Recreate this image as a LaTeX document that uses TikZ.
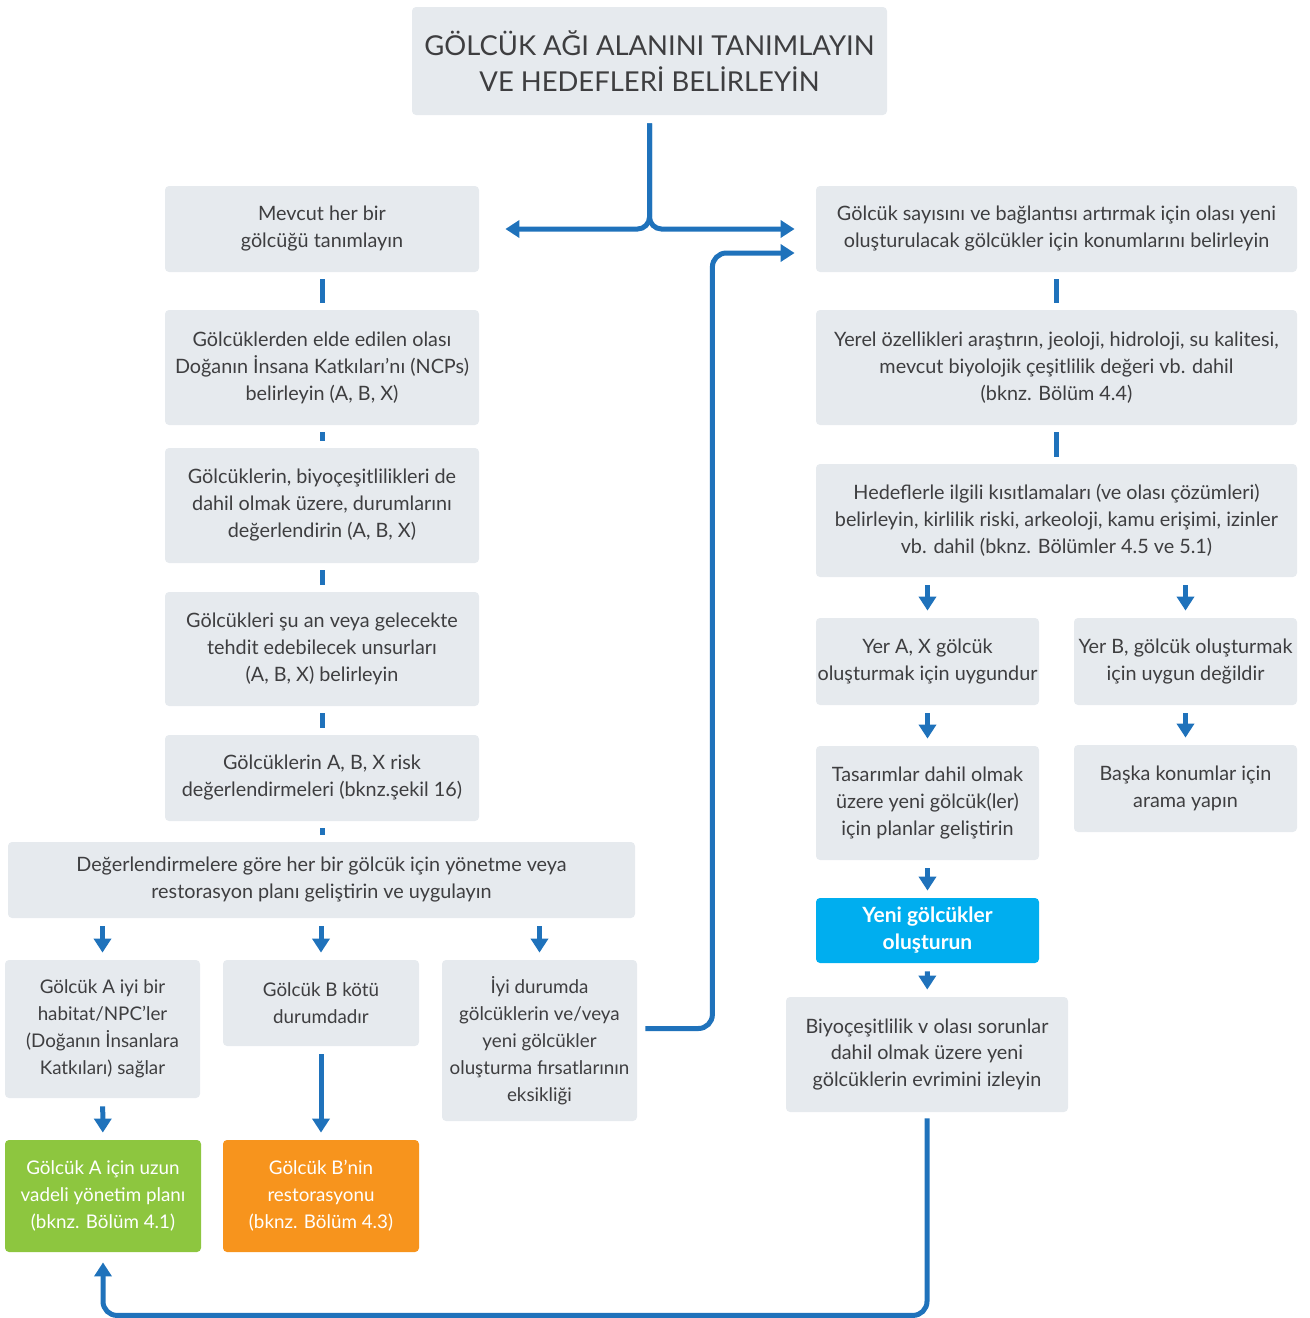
\documentclass[tikz,border=0pt]{standalone}
\usepackage{fontspec}
\setmainfont{Lato}
\usetikzlibrary{arrows.meta,calc}
\definecolor{boxgray}{RGB}{230,234,238}
\definecolor{textgray}{RGB}{62,62,64}
\definecolor{linkblue}{RGB}{31,114,187}
\definecolor{leafgreen}{RGB}{141,198,63}
\definecolor{warmorange}{RGB}{247,148,29}
\definecolor{skyblue}{RGB}{0,174,239}

\begin{document}
\begin{tikzpicture}[x=0.5pt,y=-0.5pt,
    box/.style={fill=boxgray,rounded corners=2pt,align=center,inner sep=0pt,
      text=textgray,font=\fontsize{9.9}{13.5}\selectfont},
    narrow/.style={font=\fontsize{9.4}{13.5}\selectfont},
    sz/.style 2 args={minimum width=#1*0.5pt,minimum height=#2*0.5pt},
    colorbox/.style={box,fill=#1,text=white},
    link/.style={draw=linkblue,line width=2.5pt,shorten <=3.5pt,shorten >=3.5pt},
    arr/.style={link,-{Triangle[width=8.5pt,length=7pt]},shorten <=4pt,shorten >=3.5pt}]
  \useasboundingbox (0,0) rectangle (1310,1318);

  % title
  \node[box,sz={475}{108},font=\fontsize{13.7}{18}\selectfont] (top) at (649.5,61)
    {GÖLCÜK AĞI ALANINI TANIMLAYIN\\VE HEDEFLERİ BELİRLEYİN};

  % left column
  \node[box,sz={314}{86}] (mevcut) at (322,229) {Mevcut her bir\\gölcüğü tanımlayın};
  \node[box,sz={314}{115}] (ncp) at (322,367.5)
    {Gölcüklerden elde edilen olası\\Doğanın İnsana Katkıları’nı (NCPs)\\belirleyin (A, B, X)};
  \node[box,sz={314}{115}] (durum) at (322,505.5)
    {Gölcüklerin, biyoçeşitlilikleri de\\dahil olmak üzere, durumlarını\\değerlendirin (A, B, X)};
  \node[box,sz={314}{114}] (tehdit) at (322,649)
    {Gölcükleri şu an veya gelecekte\\tehdit edebilecek unsurları\\(A, B, X) belirleyin};
  \node[box,sz={314}{86}] (risk) at (322,778)
    {Gölcüklerin A, B, X risk\\değerlendirmeleri (bknz.şekil 16)};
  \node[box,sz={627}{76}] (plan) at (321.5,880)
    {Değerlendirmelere göre her bir gölcük için yönetme veya\\restorasyon planı geliştirin ve uygulayın};

  \node[box,narrow,sz={195}{138}] (iyi) at (102.5,1029)
    {Gölcük A iyi bir\\habitat/NPC'ler\\(Doğanın İnsanlara\\Katkıları) sağlar};
  \node[box,narrow,sz={196}{86}] (kotu) at (321,1003) {Gölcük B kötü\\durumdadır};
  \node[box,narrow,sz={195}{161}] (firsat) at (539.5,1040.5)
    {İyi durumda\\gölcüklerin ve/veya\\yeni gölcükler\\oluşturma fırsatlarının\\eksikliği};
  \node[colorbox=leafgreen,narrow,sz={196}{112}] (yesil) at (103,1196)
    {Gölcük A için uzun\\vadeli yönetim planı\\(bknz. Bölüm 4.1)};
  \node[colorbox=warmorange,narrow,sz={196}{112}] (turuncu) at (321,1196)
    {Gölcük B'nin\\restorasyonu\\(bknz. Bölüm 4.3)};

  % right column
  \node[box,sz={481}{86}] (olas) at (1056.5,229)
    {Gölcük sayısını ve bağlantısı artırmak için olası yeni\\oluşturulacak gölcükler için konumlarını belirleyin};
  \node[box,sz={481}{115}] (yerel) at (1056.5,367.5)
    {Yerel özellikleri araştırın, jeoloji, hidroloji, su kalitesi,\\mevcut biyolojik çeşitlilik değeri vb. dahil\\(bknz. Bölüm 4.4)};
  \node[box,sz={481}{113}] (kisit) at (1056.5,520.5)
    {Hedeflerle ilgili kısıtlamaları (ve olası çözümleri)\\belirleyin, kirlilik riski, arkeoloji, kamu erişimi, izinler\\vb. dahil (bknz. Bölümler 4.5 ve 5.1)};
  \node[box,sz={223}{87}] (uygun) at (927.5,661.5) {Yer A, X gölcük\\oluşturmak için uygundur};
  \node[box,sz={223}{87}] (degil) at (1185.5,661.5) {Yer B, gölcük oluşturmak\\için uygun değildir};
  \node[box,sz={223}{114}] (tasarim) at (927.5,803)
    {Tasarımlar dahil olmak\\üzere yeni gölcük(ler)\\için planlar geliştirin};
  \node[box,sz={223}{87}] (baska) at (1185.5,788.5) {Başka konumlar için\\arama yapın};
  \node[colorbox=skyblue,sz={223}{65},font=\fontsize{10.5}{13.5}\selectfont\bfseries] (yeni) at (927.5,930.5)
    {Yeni gölcükler\\oluşturun};
  \node[box,sz={282}{115}] (izle) at (927,1054.5)
    {Biyoçeşitlilik v olası sorunlar\\dahil olmak üzere yeni\\gölcüklerin evrimini izleyin};

  % connectors
  \draw[arr,rounded corners=6pt,shorten >=13pt] (top.south) -- (top.south |- mevcut.east) -- (mevcut.east);
  \draw[arr,rounded corners=6pt,shorten >=10.5pt] (top.south) -- (top.south |- olas.west) -- (olas.west);

  \draw[link] (mevcut) -- (ncp);
  \draw[link] (ncp) -- (durum);
  \draw[link] (durum) -- (tehdit);
  \draw[link] (tehdit) -- (risk);
  \draw[link] (risk.south) -- (plan.north -| risk.south);
  \draw[arr] (plan.south -| iyi.north) -- (iyi);
  \draw[arr] (plan.south -| kotu.north) -- (kotu);
  \draw[arr] (plan.south -| firsat.north) -- (firsat);
  \draw[arr] (iyi) -- (yesil);
  \draw[arr] (kotu) -- (turuncu);
  \draw[arr,rounded corners=7pt,shorten >=10.5pt] ([yshift=6pt]firsat.east) -- ++(75,0) |- ([yshift=-12pt]olas.west);

  \draw[link] (olas) -- (yerel);
  \draw[link] (yerel) -- (kisit);
  \draw[arr] (kisit.south -| uygun.north) -- (uygun);
  \draw[arr] (kisit.south -| degil.north) -- (degil);
  \draw[arr] (uygun) -- (tasarim);
  \draw[arr] (degil) -- (baska);
  \draw[arr] (tasarim) -- (yeni);
  \draw[arr] (yeni) -- (izle);
  \draw[arr,rounded corners=7pt,shorten <=3pt,shorten >=5pt] (izle.south) -- ++(0,203) -| (yesil.south);
\end{tikzpicture}
\end{document}
